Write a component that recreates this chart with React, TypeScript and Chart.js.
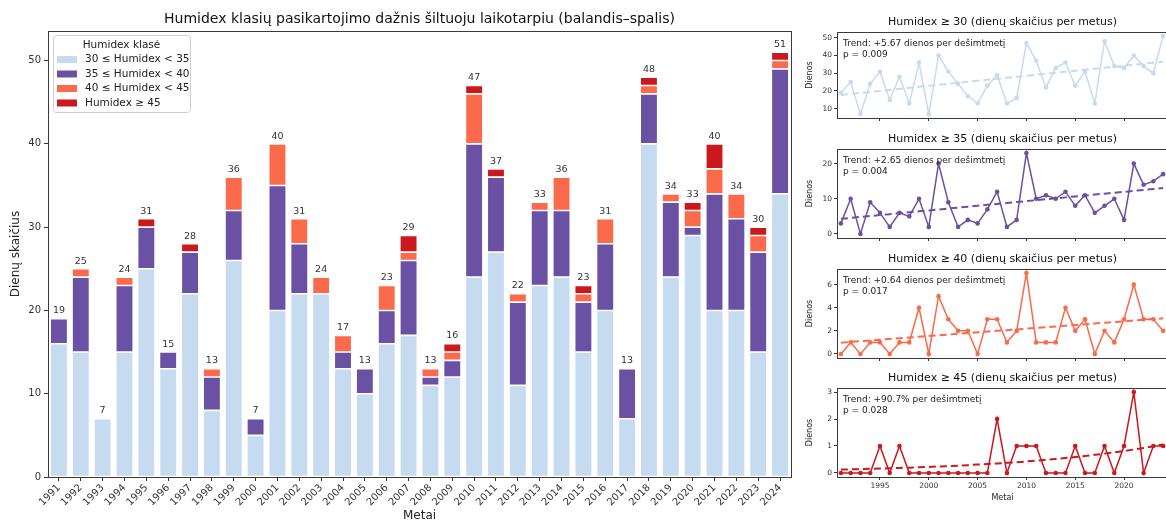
import React, { useEffect, useRef } from "react";
import { Chart, registerables } from "chart.js";
Chart.register(...registerables);

const FONT = "'DejaVu Sans', sans-serif";
Chart.defaults.font.family = FONT;

// ---------- data ----------
const YEARS = [
  "1991", "1992", "1993", "1994", "1995", "1996", "1997", "1998", "1999", "2000",
  "2001", "2002", "2003", "2004", "2005", "2006", "2007", "2008", "2009", "2010",
  "2011", "2012", "2013", "2014", "2015", "2016", "2017", "2018", "2019", "2020",
  "2021", "2022", "2023", "2024",
];
// days per class (stacked)
const C30 = [16, 15, 7, 15, 25, 13, 22, 8, 26, 5, 20, 22, 22, 13, 10, 16, 17, 11, 12, 24, 27, 11, 23, 24, 15, 20, 7, 40, 24, 29, 20, 20, 15, 34];
const C35 = [3, 9, 0, 8, 5, 2, 5, 4, 6, 2, 15, 6, 0, 2, 3, 4, 9, 1, 2, 16, 9, 10, 9, 8, 6, 8, 6, 6, 9, 1, 14, 11, 12, 15];
const C40 = [0, 1, 0, 1, 0, 0, 0, 1, 4, 0, 5, 3, 2, 2, 0, 3, 1, 1, 1, 6, 0, 1, 1, 4, 1, 3, 0, 1, 1, 2, 3, 3, 2, 1];
const C45 = [0, 0, 0, 0, 1, 0, 1, 0, 0, 0, 0, 0, 0, 0, 0, 0, 2, 0, 1, 1, 1, 0, 0, 0, 1, 0, 0, 1, 0, 1, 3, 0, 1, 1];
// exceedance counts per year
const GE30 = [19, 25, 7, 24, 31, 15, 28, 13, 36, 7, 40, 31, 24, 17, 13, 23, 29, 13, 16, 47, 37, 22, 33, 36, 23, 31, 13, 48, 34, 33, 40, 34, 30, 51];
const GE35 = [3, 10, 0, 9, 6, 2, 6, 5, 10, 2, 20, 9, 2, 4, 3, 7, 12, 2, 4, 23, 10, 11, 10, 12, 8, 11, 6, 8, 10, 4, 20, 14, 15, 17];
const GE40 = [0, 1, 0, 1, 1, 0, 1, 1, 4, 0, 5, 3, 2, 2, 0, 3, 3, 1, 2, 7, 1, 1, 1, 4, 2, 3, 0, 2, 1, 3, 6, 3, 3, 2];
const GE45 = [0, 0, 0, 0, 1, 0, 1, 0, 0, 0, 0, 0, 0, 0, 0, 0, 2, 0, 1, 1, 1, 0, 0, 0, 1, 0, 0, 1, 0, 1, 3, 0, 1, 1];

const CLASS_LABELS = ["30 ≤ Humidex < 35", "35 ≤ Humidex < 40", "40 ≤ Humidex < 45", "Humidex ≥ 45"];
const MAIN_Y_TICKS = [0, 10, 20, 30, 40, 50];
const SMALL_X_TICKS = [1995, 2000, 2005, 2010, 2015, 2020];
const P1_Y_TICKS = [10, 20, 30, 40, 50];
const P2_Y_TICKS = [0, 10, 20];
const P3_Y_TICKS = [0, 2, 4, 6];
const P4_Y_TICKS = [0, 1, 2, 3];

const COLORS = ["#c6dbef", "#6a51a3", "#fb6a4a", "#cb181d"];
const MAIN_TITLE = "Humidex klasių pasikartojimo dažnis šiltuoju laikotarpiu (balandis–spalis)";

const TREND_TEXT = [
  ["Trend: +5.67 dienos per dešimtmetį", "p = 0.009"],
  ["Trend: +2.65 dienos per dešimtmetį", "p = 0.004"],
  ["Trend: +0.64 dienos per dešimtmetį", "p = 0.017"],
  ["Trend: +90.7% per dešimtmetį", "p = 0.028"],
];

// ---------- trend fits ----------
function olsFit(xs: number[], ys: number[]) {
  const n = xs.length;
  const mx = xs.reduce((a, b) => a + b, 0) / n;
  const my = ys.reduce((a, b) => a + b, 0) / n;
  let sxy = 0, sxx = 0;
  for (let i = 0; i < n; i++) { sxy += (xs[i] - mx) * (ys[i] - my); sxx += (xs[i] - mx) ** 2; }
  const b = sxy / sxx;
  return (x: number) => my + b * (x - mx);
}
function poissonFit(xs: number[], ys: number[]) {
  const n = xs.length;
  const mx = xs.reduce((a, b) => a + b, 0) / n;
  const t = xs.map((x) => x - mx);
  let a = Math.log(ys.reduce((p, q) => p + q, 0) / n), b = 0;
  for (let it = 0; it < 60; it++) {
    let ga = 0, gb = 0, h11 = 0, h12 = 0, h22 = 0;
    for (let i = 0; i < n; i++) {
      const mu = Math.exp(a + b * t[i]);
      ga += ys[i] - mu; gb += t[i] * (ys[i] - mu);
      h11 += mu; h12 += t[i] * mu; h22 += t[i] * t[i] * mu;
    }
    const det = h11 * h22 - h12 * h12;
    a += (h22 * ga - h12 * gb) / det;
    b += (-h12 * ga + h11 * gb) / det;
  }
  return (x: number) => Math.exp(a + b * (x - mx));
}

// ---------- plugins ----------
const framePlugin = {
  id: "frame",
  afterDatasetsDraw(chart: any) {
    const { ctx, chartArea: a } = chart;
    ctx.save();
    ctx.strokeStyle = "#3a3a3a";
    ctx.lineWidth = 1;
    ctx.strokeRect(Math.round(a.left) + 0.5, Math.round(a.top) + 0.5, Math.round(a.right - a.left), Math.round(a.bottom - a.top));
    ctx.restore();
  },
};

function titlePlugin(text: string, size: number, dy: number) {
  return {
    id: "ttl",
    afterDraw(chart: any) {
      const { ctx, chartArea: a } = chart;
      ctx.save();
      ctx.font = `${size}px ${FONT}`;
      ctx.fillStyle = "#111";
      ctx.textAlign = "center";
      ctx.textBaseline = "middle";
      ctx.fillText(text, (a.left + a.right) / 2, a.top - dy);
      ctx.restore();
    },
  };
}

const totalsPlugin = {
  id: "totals",
  afterDatasetsDraw(chart: any) {
    const { ctx } = chart;
    const xs = chart.scales.x, ys = chart.scales.y;
    ctx.save();
    ctx.font = `9.5px ${FONT}`;
    ctx.fillStyle = "#333";
    ctx.textAlign = "center";
    ctx.textBaseline = "bottom";
    GE30.forEach((v, i) => {
      ctx.fillText(String(v), xs.getPixelForValue(i), ys.getPixelForValue(v) - 3);
    });
    ctx.restore();
  },
};

const legendPlugin = {
  id: "legendBox",
  afterDraw(chart: any) {
    const { ctx, chartArea: a } = chart;
    const x = a.left + 5, y = a.top + 4, w = 137, h = 77;
    ctx.save();
    ctx.fillStyle = "rgba(255,255,255,0.85)";
    ctx.strokeStyle = "#d0d0d0";
    ctx.lineWidth = 1;
    ctx.beginPath();
    ctx.roundRect(x + 0.5, y + 0.5, w, h, 3);
    ctx.fill();
    ctx.stroke();
    ctx.fillStyle = "#222";
    ctx.font = `10.5px ${FONT}`;
    ctx.textBaseline = "middle";
    ctx.textAlign = "center";
    ctx.fillText("Humidex klasė", x + w / 2, y + 10);
    ctx.textAlign = "left";
    CLASS_LABELS.forEach((lab, i) => {
      const cy = y + 24.5 + i * 14.5;
      ctx.fillStyle = COLORS[i];
      ctx.fillRect(x + 4, cy - 3.5, 20, 7);
      ctx.fillStyle = "#222";
      ctx.fillText(lab, x + 32, cy);
    });
    ctx.restore();
  },
};

function annotPlugin(lines: string[]) {
  return {
    id: "annot",
    afterDatasetsDraw(chart: any) {
      const { ctx, chartArea: a } = chart;
      ctx.save();
      ctx.font = `9px ${FONT}`;
      ctx.fillStyle = "#222";
      ctx.textAlign = "left";
      ctx.textBaseline = "middle";
      ctx.fillText(lines[0], a.left + 6, a.top + 11.5);
      ctx.fillText(lines[1], a.left + 6, a.top + 23);
      ctx.restore();
    },
  };
}

// ---------- layout ----------
const ROOT_W = 1166, ROOT_H = 522;
const MAIN_W = 800;
const SMALL_LEFT = 790, SMALL_W = 382;
const PANELS = [
  { top: 32, bottom: 118, yMin: 4.8, yMax: 53.2, ticks: P1_Y_TICKS, data: GE30, color: COLORS[0], title: "Humidex ≥ 30 (dienų skaičius per metus)", fit: "ols", last: false },
  { top: 149, bottom: 238, yMin: -1.15, yMax: 24.15, ticks: P2_Y_TICKS, data: GE35, color: COLORS[1], title: "Humidex ≥ 35 (dienų skaičius per metus)", fit: "ols", last: false },
  { top: 269, bottom: 358, yMin: -0.35, yMax: 7.35, ticks: P3_Y_TICKS, data: GE40, color: COLORS[2], title: "Humidex ≥ 40 (dienų skaičius per metus)", fit: "ols", last: false },
  { top: 388, bottom: 477, yMin: -0.15, yMax: 3.15, ticks: P4_Y_TICKS, data: GE45, color: COLORS[3], title: "Humidex ≥ 45 (dienų skaičius per metus)", fit: "poisson", last: true },
];

function MainChart() {
  const ref = useRef<HTMLCanvasElement>(null);
  useEffect(() => {
    const classes = [C30, C35, C40, C45];
    const chart = new Chart(ref.current as HTMLCanvasElement, {
      type: "bar",
      data: {
        labels: YEARS,
        datasets: classes.map((d, i) => ({
          label: CLASS_LABELS[i],
          data: d,
          backgroundColor: COLORS[i],
          borderColor: "#ffffff",
          borderWidth: 0.8,
          borderSkipped: false,
          barPercentage: 0.8,
          categoryPercentage: 1,
        })),
      },
      options: {
        responsive: true,
        maintainAspectRatio: false,
        animation: false,
        layout: { padding: { top: 31, right: MAIN_W - 791, left: 0, bottom: 0 } },
        plugins: { legend: { display: false }, tooltip: { enabled: false }, title: { display: false } },
        scales: {
          x: {
            stacked: true,
            offset: true,
            grid: { display: true, drawOnChartArea: false, drawTicks: true, tickLength: 4, color: "#333", offset: false },
            border: { display: false },
            ticks: { minRotation: 45, maxRotation: 45, autoSkip: false, font: { size: 10 }, color: "#333", padding: 1 },
            title: { display: true, text: "Metai", font: { size: 12, lineHeight: 1 }, color: "#222", padding: { top: 0, bottom: 0 } },
            afterFit: (s: any) => { s.height = ROOT_H - 477; },
          } as any,
          y: {
            stacked: true,
            min: 0,
            max: 53.55,
            afterBuildTicks: (s: any) => { s.ticks = MAIN_Y_TICKS.map((v) => ({ value: v })); },
            grid: { display: true, drawOnChartArea: false, drawTicks: true, tickLength: 4, color: "#333" },
            border: { display: false },
            ticks: { font: { size: 10 }, color: "#333", padding: 3 },
            title: { display: true, text: "Dienų skaičius", font: { size: 12, lineHeight: 1.2 }, color: "#222", padding: { top: 9, bottom: 0 } },
            afterFit: (s: any) => { s.width = 48; },
          } as any,
        },
      },
      plugins: [framePlugin, totalsPlugin, titlePlugin(MAIN_TITLE, 14, 12), legendPlugin],
    } as any);
    return () => chart.destroy();
  }, []);
  return (
    <div style={{ position: "absolute", left: 0, top: 0, width: MAIN_W, height: ROOT_H }}>
      <canvas ref={ref} style={{ display: "block" }} />
    </div>
  );
}

function SmallChart({ idx }: { idx: number }) {
  const ref = useRef<HTMLCanvasElement>(null);
  const p = PANELS[idx];
  const bottomSpace = p.last ? ROOT_H - p.bottom : 8;
  const canvasTop = p.top - 30;
  const canvasH = p.bottom - p.top + 30 + bottomSpace;
  useEffect(() => {
    const xs = YEARS.map((y) => Number(y));
    const f = p.fit === "ols" ? olsFit(xs, p.data) : poissonFit(xs, p.data);
    const trend = xs.map((x) => ({ x, y: f(x) }));
    const pts = xs.map((x, i) => ({ x, y: p.data[i] }));
    const chart = new Chart(ref.current as HTMLCanvasElement, {
      type: "line",
      data: {
        datasets: [
          { data: trend, borderColor: p.color, borderWidth: 2, borderDash: [7, 4], pointRadius: 0, fill: false, tension: 0 },
          { data: pts, borderColor: p.color, backgroundColor: p.color, borderWidth: 1.5, pointRadius: 2.3, pointBorderWidth: 0, fill: false, tension: 0 },
        ],
      },
      options: {
        responsive: true,
        maintainAspectRatio: false,
        animation: false,
        layout: { padding: { top: 30, right: 2, left: 0, bottom: 0 } },
        plugins: { legend: { display: false }, tooltip: { enabled: false }, title: { display: false } },
        scales: {
          x: {
            type: "linear",
            min: 1990.6,
            max: 2024.5,
            afterBuildTicks: (s: any) => { s.ticks = SMALL_X_TICKS.map((v) => ({ value: v })); },
            grid: { display: true, drawOnChartArea: false, drawTicks: true, tickLength: 3, color: "#333" },
            border: { display: false },
            ticks: { display: p.last, font: { size: 7.5 }, color: "#333", padding: 2, callback: (v: any) => String(v) },
            title: { display: p.last, text: "Metai", font: { size: 8, lineHeight: 1.2 }, color: "#222", padding: { top: 0, bottom: 19 } },
            afterFit: (s: any) => { s.height = bottomSpace; },
          } as any,
          y: {
            min: p.yMin,
            max: p.yMax,
            afterBuildTicks: (s: any) => { s.ticks = p.ticks.map((v) => ({ value: v })); },
            grid: { display: true, drawOnChartArea: false, drawTicks: true, tickLength: 3, color: "#333" },
            border: { display: false },
            ticks: { font: { size: 7.5 }, color: "#333", padding: 2 },
            title: { display: true, text: "Dienos", font: { size: 8, lineHeight: 1.2 }, color: "#222", padding: { top: 15, bottom: 0 } },
            afterFit: (s: any) => { s.width = 47; },
          } as any,
        },
      },
      plugins: [framePlugin, annotPlugin(TREND_TEXT[idx]), titlePlugin(p.title, 11, 10)],
    } as any);
    return () => chart.destroy();
  }, []);
  return (
    <div style={{ position: "absolute", left: SMALL_LEFT, top: canvasTop, width: SMALL_W, height: canvasH }}>
      <canvas ref={ref} style={{ display: "block" }} />
    </div>
  );
}

export default function App() {
  return (
    <div style={{ position: "fixed", left: 0, top: 0, width: ROOT_W, height: ROOT_H, overflow: "hidden", background: "#fff" }}>
      <MainChart />
      {PANELS.map((_, i) => (
        <SmallChart key={i} idx={i} />
      ))}
    </div>
  );
}
